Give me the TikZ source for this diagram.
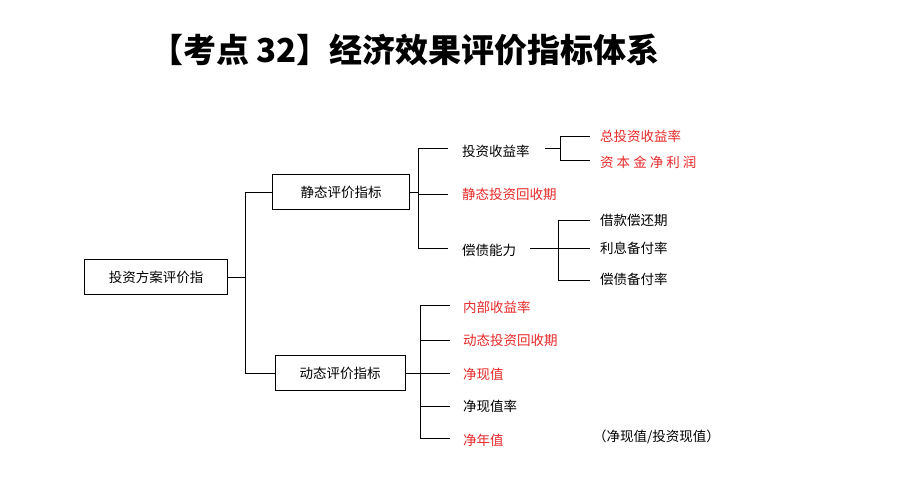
\documentclass[tikz,border=0pt]{standalone}
\usepackage{fontspec}
\setmainfont{Noto Sans CJK SC}
\usetikzlibrary{positioning,calc}
\definecolor{keyred}{RGB}{230,40,40}
\tikzstyle{box} = [draw, thick, minimum height=35pt, inner sep=2pt, font=\fontsize{13.5}{15}\selectfont]
\tikzstyle{item} = [anchor=west, inner sep=0pt, font=\fontsize{13.5}{15}\selectfont]
\tikzstyle{hot} = [item, text=keyred]
\tikzstyle{link} = [thick]
\begin{document}
\begin{tikzpicture}[x=1pt,y=-1pt]
    \useasboundingbox (0,0) rectangle (900,490);
    \node[font=\fontsize{33}{37}\selectfont\bfseries] (title) at (405,50) {【考点 32】经济效果评价指标体系};
    % boxes
    \node[box, minimum width=143pt] (root) at (156,277) {投资方案评价指};
    \node[box, minimum width=137pt] (stat) at (341,192) {静态评价指标};
    \node[box, minimum width=130pt] (dyn) at (340,373) {动态评价指标};
    % root bracket
    \coordinate (rj) at (245,277);
    \draw[link] (root.east) -- (rj);
    \draw[link] (245,192) -- (245,373);
    \draw[link] (245,192) -- (stat.west);
    \draw[link] (245,373) -- (dyn.west);
    % static branch
    \node[item] (roi) at (462,151) {投资收益率};
    \node[hot] (spb) at (462,194) {静态投资回收期};
    \node[item] (solv) at (462,250) {偿债能力};
    \draw[link] (stat.east) -- (418,192);
    \draw[link] (418,148) -- (418,248);
    \draw[link] (418,148) -- (448,148);
    \draw[link] (418,194) -- (448,194);
    \draw[link] (418,248) -- (448,248);
    \node[hot] (troi) at (600,136) {总投资收益率};
    \node[hot] (eq) at (600,162) {资 本 金 净 利 润};
    \draw[link] (545,148) -- (560,148);
    \draw[link] (560,136) -- (560,160);
    \draw[link] (560,136) -- (590,136);
    \draw[link] (560,160) -- (590,160);
    \node[item] (rep) at (600,220) {借款偿还期};
    \node[item] (icr) at (600,248) {利息备付率};
    \node[item] (dscr) at (600,279) {偿债备付率};
    \draw[link] (530,248) -- (558,248);
    \draw[link] (558,220) -- (558,280);
    \draw[link] (558,220) -- (590,220);
    \draw[link] (558,248) -- (590,248);
    \draw[link] (558,280) -- (590,280);
    % dynamic branch
    \node[hot] (irr) at (463,307) {内部收益率};
    \node[hot] (dpb) at (463,340) {动态投资回收期};
    \node[hot] (npv) at (463,374) {净现值};
    \node[item] (npvr) at (463,406) {净现值率};
    \node[hot] (nav) at (463,440) {净年值};
    \node[item] (note) at (593,437) {（净现值/投资现值）};
    \draw[link] (dyn.east) -- (420,373);
    \draw[link] (420,305) -- (420,438);
    \foreach \y in {305,340,373,406,438}
        \draw[link] (420,\y) -- (450,\y);
\end{tikzpicture}
\end{document}
